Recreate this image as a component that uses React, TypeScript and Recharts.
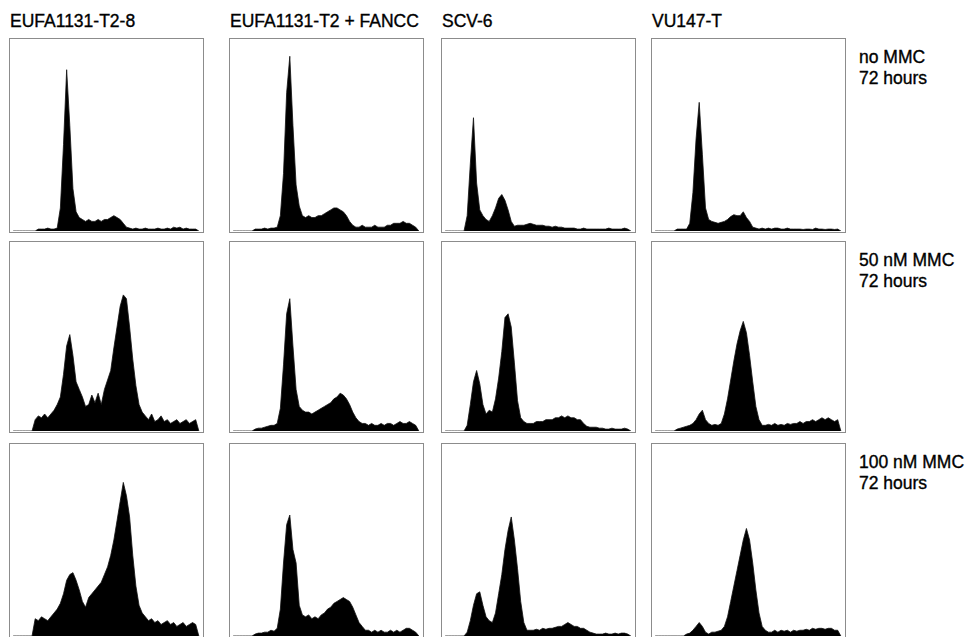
import React from "react";
import { AreaChart, Area, XAxis, YAxis } from "recharts";

// DNA content histograms, 60 channels each, counts as % of panel height
const columnTitles = ["EUFA1131-T2-8", "EUFA1131-T2 + FANCC", "SCV-6", "VU147-T"];
const rowLabels = [
  ["no MMC", "72 hours"],
  ["50 nM MMC", "72 hours"],
  ["100 nM MMC", "72 hours"],
];

const noMmcEufa = [
  0, 0, 0, 0, 0, 0, 0, 0, 1, 1, 1, 1.5, 1, 1, 1.5, 12, 45, 84, 55, 22, 10, 7,
  6, 5, 6, 5, 5, 6, 5, 6, 6, 7, 8, 7, 6, 4, 2, 1.5,
  1, 1.5, 1, 1, 1.5, 1, 1, 1, 1.5, 1, 1, 1.5, 1, 2, 1.5, 2, 1, 1.5, 1, 1, 1, 0,
];
const noMmcFancc = [
  0, 0, 0, 0, 0, 0, 0, 1, 1, 1, 1.5, 1, 1.5, 1.5, 2, 8, 30, 72, 91, 55, 24, 13,
  8, 7, 8, 7, 7, 8, 8, 9, 10, 11, 12, 12, 11, 10, 8, 5, 3,
  2, 2, 3, 2, 2, 2, 3, 2, 2, 2, 3, 3, 4, 4, 4, 5, 4, 4, 3, 2, 0,
];
const noMmcScv = [
  0, 0, 0, 0, 0, 0, 0, 8, 35, 59, 25, 11, 8, 6, 5, 8, 12, 17, 19, 16, 11, 5, 2.5,
  3, 3, 3, 3.5, 4, 3.5, 3, 3, 3, 2.5, 2.5, 2, 2.5, 2, 2, 1.5, 1.5, 1.5,
  1.5, 1, 1, 1.5, 1, 1, 1, 1, 1, 1, 1, 1.5, 1, 1, 1, 1, 1.5, 1, 0,
];
const noMmcVu = [
  0, 0, 0, 0, 0, 0, 0, 1, 1, 1, 1, 4, 20, 48, 67, 40, 12, 6, 5, 4.5, 4, 4.5, 5,
  6, 7.5, 8.5, 8, 8, 10, 7, 5, 2,
  1.5, 1, 1.5, 1, 1.5, 1, 1.5, 1.5, 1, 1, 1.5, 1, 1, 1, 1, 0.8, 1, 1, 0.8, 1.5, 1, 1, 0.8, 1, 1, 0.8, 1, 0,
];

const mmc50Eufa = [
  0, 0, 0, 0, 0, 0, 0, 6, 8, 7, 9, 7, 9, 11, 14, 18, 30, 45, 51, 40, 26, 22,
  18, 13, 14, 19, 15, 20, 14, 22, 27, 32, 44, 55, 66, 72, 70, 55, 38, 24, 14, 10,
  8, 6, 9, 5, 6, 8, 5, 6, 4, 5, 6, 4, 5, 6, 4, 5, 6, 0,
];
const mmc50Fancc = [
  0, 0, 0, 0, 0, 0, 0, 1, 1.5, 1.5, 2, 2.5, 3, 3, 4, 12, 35, 62, 70, 45, 22, 13,
  11, 10, 10, 9, 10, 11, 12, 13, 14, 15, 17, 18, 20, 19, 17, 14, 10, 7, 5,
  4, 4, 3, 4, 3, 3, 4, 3, 4, 4, 3, 4, 5, 4, 4, 5, 4, 3, 0,
];
const mmc50Scv = [
  0, 0, 0, 0, 0, 0, 0, 3, 14, 26, 32, 25, 14, 9, 11, 10, 17, 28, 42, 60, 62, 55,
  36, 16, 7, 5, 4, 4, 4, 5, 5, 5, 6, 6, 6, 7, 7, 8, 7, 8, 7, 7, 6, 6, 4, 2.5,
  2, 2, 2, 1.5, 1.5, 1, 1, 1.5, 1, 1, 1, 1.5, 1, 0,
];
const mmc50Vu = [
  0, 0, 0, 0, 0, 0, 0, 1, 1.5, 2, 2.5, 3, 4, 6, 9, 11, 6, 4, 3, 3.5, 3, 4,
  9, 17, 27, 37, 46, 53, 58, 52, 40, 26, 13, 6,
  3, 3, 3.5, 3, 4, 3, 3.5, 3, 4, 3.5, 4, 4, 5, 4, 5, 5, 6, 5, 6, 7, 6, 7, 6, 5, 6, 0,
];

const mmc100Eufa = [
  0, 0, 0, 0, 0, 0, 0, 9, 8, 10, 9, 8, 10, 12, 14, 17, 22, 29, 32, 33, 29, 24, 18, 15,
  20, 22, 24, 26, 28, 32, 36, 42, 50, 60, 70, 80, 73, 62, 42, 26, 16, 12,
  10, 8, 9, 7, 8, 6, 7, 8, 6, 7, 5, 6, 7, 5, 6, 7, 6, 0,
];
const mmc100Fancc = [
  0, 0, 0, 0, 0, 0, 0, 1, 1.5, 1.5, 2, 2, 3, 2.5, 4, 14, 38, 58, 63, 45, 38, 16,
  11, 10, 11, 9, 10, 9, 11, 12, 14, 15, 17, 18, 19, 20, 19, 18, 15, 11, 7, 5,
  3, 3, 2, 3, 2, 3, 2, 2, 3, 2, 3, 2, 3, 4, 4, 3, 2, 0,
];
const mmc100Scv = [
  0, 0, 0, 0, 0, 0, 0, 2, 8, 16, 22, 23, 16, 10, 8, 7, 12, 22, 32, 45, 55, 62, 50, 35, 18, 7, 3,
  3, 3, 3.5, 3, 4, 3.5, 4, 4, 4.5, 5, 5, 6, 7, 6, 5, 5, 4, 4, 3, 2,
  1.5, 1, 1, 1, 1.5, 1, 1, 1.5, 1, 1.5, 1.5, 1, 0,
];
const mmc100Vu = [
  0, 0, 0, 0, 0, 0, 0, 0, 0, 0, 1, 1.5, 3, 5, 7, 5, 2, 1, 2, 2, 2.5, 3,
  5, 10, 18, 26, 34, 42, 50, 56, 50, 38, 24, 12, 5,
  3, 2, 2, 3, 2, 3, 2.5, 3, 2, 3, 2.5, 3, 3, 3.5, 3, 4, 3.5, 4, 4, 3.5, 4, 4, 3, 3, 0,
];

const panels = [
  [noMmcEufa, noMmcFancc, noMmcScv, noMmcVu],
  [mmc50Eufa, mmc50Fancc, mmc50Scv, mmc50Vu],
  [mmc100Eufa, mmc100Fancc, mmc100Scv, mmc100Vu],
];

const colLeft = [9, 229, 441, 651];
const rowTop = [38, 241, 443];
const rowHeight = [195, 192, 195];
const panelWidth = 195;
const font = '"Liberation Sans", Arial, sans-serif';
const labelStyle = { fontSize: 17.5, whiteSpace: "nowrap", WebkitTextStroke: "0.35px #000" } as const;

function Histogram({ values, left, top, width, height }) {
  const data = values.map((count, channel) => ({ channel, count }));
  return (
    <div
      style={{
        position: "absolute",
        left,
        top,
        width,
        height,
        boxSizing: "border-box",
        border: "1.5px solid #8c8c8c",
        background: "#fff",
      }}
    >
      <AreaChart width={width - 3} height={height - 3} data={data} margin={{ top: 0, right: 0, bottom: 0, left: 0 }}>
        <XAxis dataKey="channel" type="number" domain={[-1, 60]} hide />
        <YAxis type="number" domain={[0, 100]} hide />
        <Area
          type="linear"
          dataKey="count"
          stroke="#111"
          strokeWidth={0.8}
          fill="#000"
          fillOpacity={1}
          isAnimationActive={false}
        />
      </AreaChart>
    </div>
  );
}

export default function App() {
  return (
    <div style={{ position: "absolute", left: 0, top: 0, width: 973, height: 637, background: "#fff", overflow: "hidden", fontFamily: font, color: "#000" }}>
      {columnTitles.map((t, c) => (
        <div key={t} style={{ ...labelStyle, position: "absolute", left: colLeft[c] + 1, top: 11, lineHeight: "20px" }}>
          {t}
        </div>
      ))}
      {rowLabels.map((lines, r) => (
        <div key={r} style={{ ...labelStyle, position: "absolute", left: 859, top: rowTop[r] + 9, lineHeight: "21px" }}>
          {lines.map((l) => (
            <div key={l}>{l}</div>
          ))}
        </div>
      ))}
      {panels.map((row, r) =>
        row.map((values, c) => (
          <Histogram
            key={`${r}-${c}`}
            values={values}
            left={colLeft[c]}
            top={rowTop[r]}
            width={panelWidth}
            height={rowHeight[r]}
          />
        ))
      )}
    </div>
  );
}
